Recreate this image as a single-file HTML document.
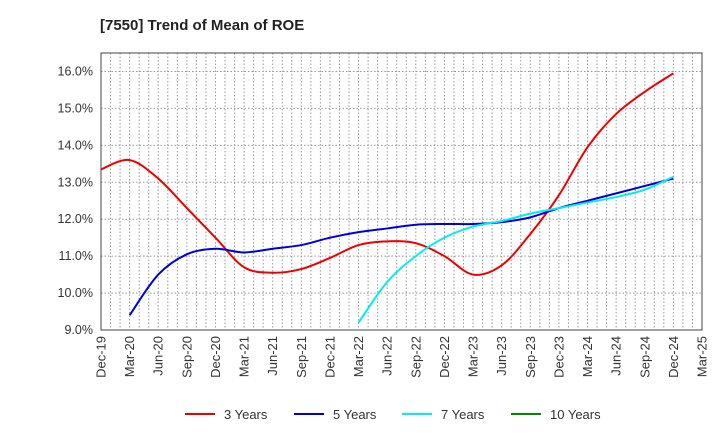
<!DOCTYPE html>
<html><head><meta charset="utf-8"><style>
body{margin:0;background:#fff;font-family:"Liberation Sans",sans-serif}
</style></head><body>
<svg id="chart" width="720" height="440" xmlns="http://www.w3.org/2000/svg" font-family="Liberation Sans, sans-serif">
<text x="100" y="30" font-size="15" font-weight="bold" fill="#222">[7550]  Trend of Mean of ROE</text>
<g id="grid"></g><g id="axes"></g><g id="series"></g><g id="legend"></g>
</svg>
<script>
const xLabels=["Dec-19","Mar-20","Jun-20","Sep-20","Dec-20","Mar-21","Jun-21","Sep-21","Dec-21","Mar-22","Jun-22","Sep-22","Dec-22","Mar-23","Jun-23","Sep-23","Dec-23","Mar-24","Jun-24","Sep-24","Dec-24","Mar-25"];
const yTicks=[9,10,11,12,13,14,15,16];
const s3=[13.35,13.6,13.1,12.3,11.5,10.7,10.55,10.65,10.95,11.3,11.4,11.35,11.0,10.5,10.75,11.6,12.65,13.95,14.85,15.45,15.95];
const s5=[null,9.4,10.5,11.05,11.2,11.1,11.2,11.3,11.5,11.65,11.75,11.85,11.87,11.87,11.92,12.05,12.3,12.5,12.7,12.9,13.1];
const s7=[null,null,null,null,null,null,null,null,null,9.2,10.3,11.0,11.5,11.8,11.95,12.15,12.3,12.45,12.6,12.8,13.15];
const s10=[];
const L=101,R=702,T=53,B=330,ymin=9,ymax=16.5;
const X=i=>L+(R-L)*i/(xLabels.length-1);
const Y=v=>B-(v-ymin)/(ymax-ymin)*(B-T);
const NS="http://www.w3.org/2000/svg";
function mk(tag,attrs,parent,txt){const e=document.createElementNS(NS,tag);for(const k in attrs)e.setAttribute(k,attrs[k]);if(txt!==undefined)e.textContent=txt;parent.appendChild(e);return e;}
const grid=document.getElementById('grid'),axes=document.getElementById('axes'),ser=document.getElementById('series'),leg=document.getElementById('legend');
mk('rect',{x:L,y:T,width:R-L,height:B-T,fill:'#fff'},grid);
for(let m=1;m<(xLabels.length-1)*3;m++){const x=L+(R-L)*m/((xLabels.length-1)*3);
 const g=mk('line',{x1:x,x2:x,y1:T,y2:B,stroke:'#999','stroke-dasharray':'1.5,2','stroke-width':1},grid);
 }
yTicks.forEach(v=>{const y=Y(v);
 const g=mk('line',{x1:L,x2:R,y1:y,y2:y,stroke:'#999','stroke-dasharray':'1.5,2'},grid);
 
 const t=mk('text',{x:L-8,y:y+4,'text-anchor':'end','font-size':12.5,fill:'#333'},axes,v.toFixed(1)+'%');
 });
xLabels.forEach((lb,i)=>{const x=X(i);
 const t=mk('text',{x:0,y:0,transform:`translate(${x+4.5},${B+6}) rotate(-90)`,'text-anchor':'end','font-size':13,fill:'#333'},axes,lb);
 });
const fr=mk('rect',{x:L,y:T,width:R-L,height:B-T,fill:'none',stroke:'#444','stroke-width':1},axes);

function path(arr){const pts=[];arr.forEach((v,i)=>{if(v!=null)pts.push([X(i),Y(v)]);});
 if(pts.length<2)return '';let d=`M${pts[0][0]},${pts[0][1]}`;
 for(let i=0;i<pts.length-1;i++){const p0=pts[Math.max(0,i-1)],p1=pts[i],p2=pts[i+1],p3=pts[Math.min(pts.length-1,i+2)];
  const c1=[p1[0]+(p2[0]-p0[0])/6,p1[1]+(p2[1]-p0[1])/6],c2=[p2[0]-(p3[0]-p1[0])/6,p2[1]-(p3[1]-p1[1])/6];
  d+=` C${c1[0]},${c1[1]} ${c2[0]},${c2[1]} ${p2[0]},${p2[1]}`;}return d;}
const series=[["3 Years",s3,"#ee0000","line-3-years"],["5 Years",s5,"#0000dd","line-5-years"],["7 Years",s7,"#00eeee","line-7-years"],["10 Years",s10,"#008800","line-10-years"]];
series.forEach(([n,a,c,nm],k)=>{const d=path(a);
 if(d){const p=mk('path',{d:d,fill:'none',stroke:c,'stroke-width':2},ser);}
 const lx=[185,294,402,511][k];
 const g=mk('g',{},leg);
 mk('line',{x1:lx,x2:lx+30,y1:414,y2:414,stroke:c,'stroke-width':2},g);
 mk('text',{x:lx+39,y:419,'font-size':13,fill:'#333'},g,n);});
</script>
</body></html>
